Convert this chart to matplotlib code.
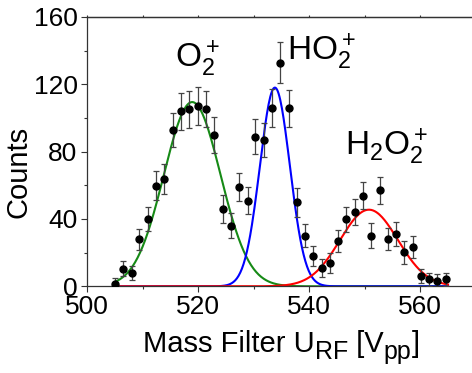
import matplotlib
matplotlib.use("Agg")
import matplotlib.pyplot as plt
import numpy as np
from matplotlib.ticker import MultipleLocator

plt.rcParams['font.family'] = ['Liberation Sans', 'DejaVu Sans']
plt.rcParams['mathtext.fontset'] = 'custom'
plt.rcParams['mathtext.rm'] = 'Liberation Sans'
plt.rcParams['mathtext.it'] = 'Liberation Sans:italic'

# measured counts vs. RF amplitude
u_rf = [504.9, 506.4, 508.0, 509.4, 510.9, 512.4, 513.9, 515.4, 516.9, 518.4,
        519.9, 521.4, 522.9, 524.4, 525.9, 527.4, 528.9, 530.3, 531.8, 533.3,
        534.8, 536.3, 537.7, 539.2, 540.7, 542.2, 543.7, 545.2, 546.7, 548.2,
        549.7, 551.2, 552.7, 554.1, 555.6, 557.1, 558.6, 560.1, 561.6, 563.1,
        564.6]
counts = [1.2, 10.4, 7.7, 27.8, 39.9, 59.8, 63.8, 92.8, 103.9, 105.1,
          107.0, 105.1, 89.9, 45.8, 35.9, 59.0, 50.9, 88.9, 86.9, 105.8,
          132.7, 105.8, 49.8, 30.0, 18.0, 11.0, 14.0, 27.0, 39.9, 44.0,
          53.9, 30.0, 56.9, 28.0, 31.0, 20.1, 23.1, 6.1, 4.1, 3.1,
          4.1]
errors = [4.0, 4.4, 4.2, 6.3, 6.9, 8.6, 8.9, 10.0, 10.9, 11.0,
          11.3, 10.7, 10.5, 8.3, 7.4, 8.1, 7.9, 10.5, 10.3, 11.3,
          12.2, 11.0, 8.4, 6.9, 5.9, 5.4, 5.9, 6.7, 7.4, 7.6,
          8.2, 7.4, 8.3, 6.7, 7.1, 6.7, 6.5, 4.3, 4.0, 4.0,
          4.0]

# gaussian fits: centre, amplitude, sigma
species = [r'$\mathregular{O_2^+}$', r'$\mathregular{HO_2^+}$', r'$\mathregular{H_2O_2^+}$']
centres = [518.9, 533.8, 550.75]
amplitudes = [109.4, 118.0, 45.5]
sigmas = [5.1, 2.7, 5.2]
colors = ['#168a16', '#0000ff', '#ff0000']
label_pos = [(515.8, 130.1), (535.9, 134.1), (546.4, 77.8)]

# x label pieces: (text, is_subscript)
xlabel_parts = [('Mass Filter U', False), ('RF', True), (' [V', False), ('pp', True), (']', False)]

fig = plt.figure(figsize=(4.72, 3.73), dpi=100)
ax = fig.add_axes([0.185, 0.2324, 0.823, 0.7224])

x = np.linspace(505, 565, 400)
for c, a, s, col in zip(centres, amplitudes, sigmas, colors):
    ax.plot(x, a * np.exp(-(x - c) ** 2 / (2 * s ** 2)), color=col, lw=1.5, zorder=2)

ax.errorbar(u_rf, counts, yerr=errors, fmt='o', color='black', ms=5,
            ecolor='#444444', elinewidth=0.9, capsize=2.5, capthick=0.9, zorder=3)

for name, (lx, ly) in zip(species, label_pos):
    ax.text(lx, ly, name, fontsize=24, ha='left', va='baseline')

ax.set_xlim(500, 570)
ax.set_ylim(0, 160)
ax.xaxis.set_major_locator(MultipleLocator(20))
ax.xaxis.set_minor_locator(MultipleLocator(10))
ax.yaxis.set_major_locator(MultipleLocator(40))
ax.yaxis.set_minor_locator(MultipleLocator(20))
ax.tick_params(which='major', length=4, width=0.8, labelsize=19, pad=2, color='#333333')
ax.tick_params(which='minor', length=2.5, width=0.8, color='#333333')
ax.tick_params(axis='y', which='major', pad=3)
ax.spines['right'].set_visible(False)
for sp in ['left', 'bottom', 'top']:
    ax.spines[sp].set_color('#333333')
    ax.spines[sp].set_linewidth(0.9)

# small outward ticks along the top frame
top = ax.secondary_xaxis('top')
top.xaxis.set_major_locator(MultipleLocator(10))
top.tick_params(length=1.5, width=0.8, color='#333333', labeltop=False)
top.spines['top'].set_color('#333333')
top.spines['top'].set_linewidth(0.9)

ax.set_ylabel('Counts', fontsize=21)
ax.yaxis.set_label_coords(-0.142, 0.424)

# x label with large subscripts, laid out piece by piece
renderer = fig.canvas.get_renderer()
W, H = fig.bbox.width, fig.bbox.height
base_y = 373 - 351.7
pieces = []
for txt, sub in xlabel_parts:
    t = fig.text(0, 0, txt, fontsize=18 if sub else 21, ha='left', va='baseline')
    pieces.append((t, sub))
widths = [t.get_window_extent(renderer).width for t, _ in pieces]
cx = 281.5
xpos = cx - sum(widths) / 2
for (t, sub), w in zip(pieces, widths):
    t.set_position((xpos / W, (base_y - (7.7 if sub else 0)) / H))
    xpos += w

fig.savefig('out.png', dpi=100)
